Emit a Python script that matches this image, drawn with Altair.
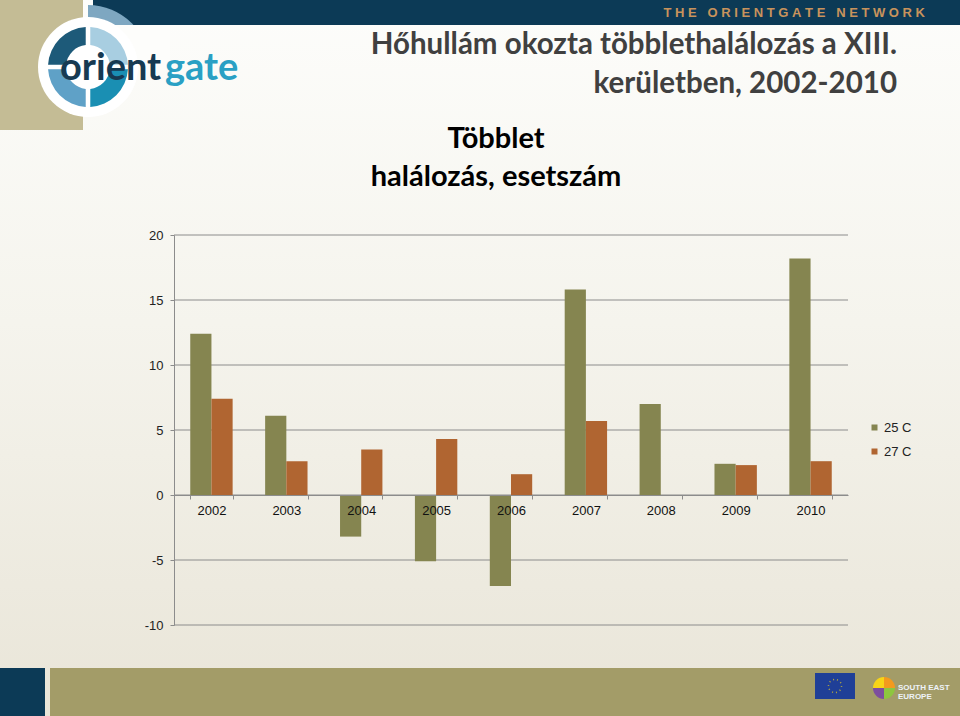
import altair as alt
import pandas as pd

# ---------------- data ----------------
years = ["2002", "2003", "2004", "2005", "2006", "2007", "2008", "2009", "2010"]
s25 = [12.4, 6.1, -3.2, -5.1, -7.0, 15.8, 7.0, 2.4, 18.2]
s27 = [7.4, 2.6, 3.5, 4.3, 1.6, 5.7, 0.0, 2.3, 2.6]
series = ["25 C", "27 C"]
series_colors = ["#858550", "#b06531"]
y_ticks = [-10, -5, 0, 5, 10, 15, 20]

title_lines = ["Hőhullám okozta többlethalálozás a XIII.", "kerületben, 2002-2010"]
subtitle_lines = ["Többlet", "halálozás, esetszám"]
NB = "\u00a0"
banner_text = (NB * 3).join(NB.join(w) for w in ["THE", "ORIENTGATE", "NETWORK"])
logo_words = ["orient", "gate"]
see_words = ["SOUTH EAST", "EUROPE"]

# ---------------- layout ----------------
W, H = 674, 390          # plot area
PL, PT = 174, 235        # plot origin on the 960x716 canvas
CW, CH = 960, 716


def px(x):
    return x - PL


def py(y):
    return y - PT


rows = []
for i, yr in enumerate(years):
    rows.append({"year": yr, "series": series[0], "value": s25[i]})
    rows.append({"year": yr, "series": series[1], "value": s27[i]})
df = pd.DataFrame(rows)
grid_df = pd.DataFrame({"value": y_ticks})
one = pd.DataFrame({"k": [0]})
base = alt.Chart(one)

yscale = alt.Scale(domain=[-10, 20], nice=False, zero=False)
y_axis = alt.Axis(values=y_ticks, title=None, grid=False, zindex=1,
                  labelExpr="datum.value + ''",
                  domainColor="#8c8c8c", tickColor="#8c8c8c", tickSize=4,
                  labelPadding=7, labelFont="Liberation Sans", labelFontSize=13,
                  labelColor="#222222")


def rect(x1, x2, y1, y2, color):
    return base.mark_rect(color=color).encode(
        x=alt.value(px(x1)), x2=alt.value(px(x2)),
        y=alt.value(py(y1)), y2=alt.value(py(y2)))


def arc(cx, cy, r1, r2, t1, t2, color, pad=0.0):
    return base.mark_arc(color=color, radius=r2, radius2=r1, theta=t1, theta2=t2,
                         padAngle=pad).encode(x=alt.value(px(cx)), y=alt.value(py(cy)))


def text(s, x, y, size, color, font="Liberation Sans", weight="normal", align="left",
         baseline="alphabetic"):
    return base.mark_text(text=s, font=font, fontSize=size, fontWeight=weight, color=color,
                          align=align, baseline=baseline).encode(
        x=alt.value(px(x)), y=alt.value(py(y)))


PI = 3.141592653589793

# background gradient over whole canvas
bg = base.mark_rect(fill=alt.Gradient(
    gradient="linear", x1=0, x2=0, y1=0, y2=1,
    stops=[alt.GradientStop(offset=0, color="#fdfdfb"),
           alt.GradientStop(offset=0.45, color="#f5f4ed"),
           alt.GradientStop(offset=1, color="#e9e5d8")])).encode(
    x=alt.value(px(0)), x2=alt.value(px(CW)), y=alt.value(py(0)), y2=alt.value(py(CH)))

decor = [
    bg,
    rect(0, 83, 0, 130, "#c4bc95"),
    rect(93, CW, 0, 25, "#0c3a56"),
    arc(88, 67, 0, 62, 0, PI / 2, "#7ea7c1"),
    rect(84, 170, 25, 70, "#fdfdfb"),
    arc(88, 67, 0, 50, 0, 2 * PI, "#ffffff"),
    arc(88, 67, 22, 40, 0, PI / 2, "#a8cee1", 0.1),
    arc(88, 67, 22, 40, PI / 2, PI, "#1a8fb3", 0.1),
    arc(88, 67, 22, 40, PI, 1.5 * PI, "#5fa1c7", 0.1),
    arc(88, 67, 22, 40, 1.5 * PI, 2 * PI, "#1d5a79", 0.1),
    text(logo_words[0], 60, 80, 38, "#173a52", font="Lato", weight="bold"),
    text(logo_words[1], 165, 80, 38, "#2aa0c4", font="Lato", weight="bold"),
    text(banner_text, 925, 17, 13, "#c8935c", weight="bold", align="right"),
    rect(0, 45, 668, CH, "#0c3a56"),
    rect(50, CW, 668, CH, "#a39c68"),
    rect(815, 855, 673, 699, "#1f3f97"),
    base.mark_point(shape="circle", size=170, color="#f3d21c", strokeWidth=1.5,
                    strokeDash=[1, 3]).encode(x=alt.value(px(835)), y=alt.value(py(686))),
    arc(884, 688, 0, 11, 0, PI / 2, "#f39a1e"),
    arc(884, 688, 0, 11, PI / 2, PI, "#8dc63f"),
    arc(884, 688, 0, 11, PI, 1.5 * PI, "#7d4e9e"),
    arc(884, 688, 0, 11, 1.5 * PI, 2 * PI, "#f7d417"),
    text(see_words[0], 898, 690, 8, "#eef3f8", weight="bold"),
    text(see_words[1], 898, 699, 8, "#eef3f8", weight="bold"),
]

grid = alt.Chart(grid_df).mark_rule(color="#8c8c8c", strokeWidth=1).encode(
    y=alt.Y("value:Q", scale=yscale, axis=y_axis))

bars = alt.Chart(df).mark_bar().encode(
    x=alt.X("year:N", sort=years,
            scale=alt.Scale(paddingInner=0.434, paddingOuter=0.217),
            axis=alt.Axis(title=None, labelAngle=0, offset=-130, zindex=1, grid=False,
                          domainColor="#8c8c8c", tickColor="#8c8c8c", tickSize=4,
                          tickBand="extent", labelFont="Liberation Sans", labelFontSize=13,
                          labelColor="#111111", labelPadding=5)),
    xOffset=alt.XOffset("series:N", sort=series, scale=alt.Scale(paddingInner=0, paddingOuter=0)),
    y=alt.Y("value:Q", scale=yscale, axis=y_axis),
    color=alt.Color("series:N", sort=series,
                    scale=alt.Scale(domain=series, range=series_colors),
                    legend=alt.Legend(title=None, orient="none", legendX=px(868), legendY=py(421),
                                      symbolType="square", symbolSize=36, symbolStrokeWidth=0,
                                      labelFont="Liberation Sans", labelFontSize=13,
                                      labelColor="#222222", rowPadding=10, labelOffset=3,
                                      padding=0)),
)

titles = [
    text(title_lines[0], 897, 54, 29.5, "#404040", font="Lato", weight="bold", align="right"),
    text(title_lines[1], 897, 93, 29.5, "#404040", font="Lato", weight="bold", align="right"),
    text(subtitle_lines[0], 496, 148, 29, "#000000", font="Lato", weight="bold", align="center"),
    text(subtitle_lines[1], 496, 186, 29, "#000000", font="Lato", weight="bold", align="center"),
]

chart = alt.layer(*decor, grid, bars, *titles).properties(
    width=W, height=H,
    padding={"left": PL, "top": PT, "right": CW - PL - W, "bottom": CH - PT - H},
    autosize=alt.AutoSizeParams(type="none"),
).configure_view(stroke=None)

chart.save("out.html", embed_options={"renderer": "svg", "actions": False})
